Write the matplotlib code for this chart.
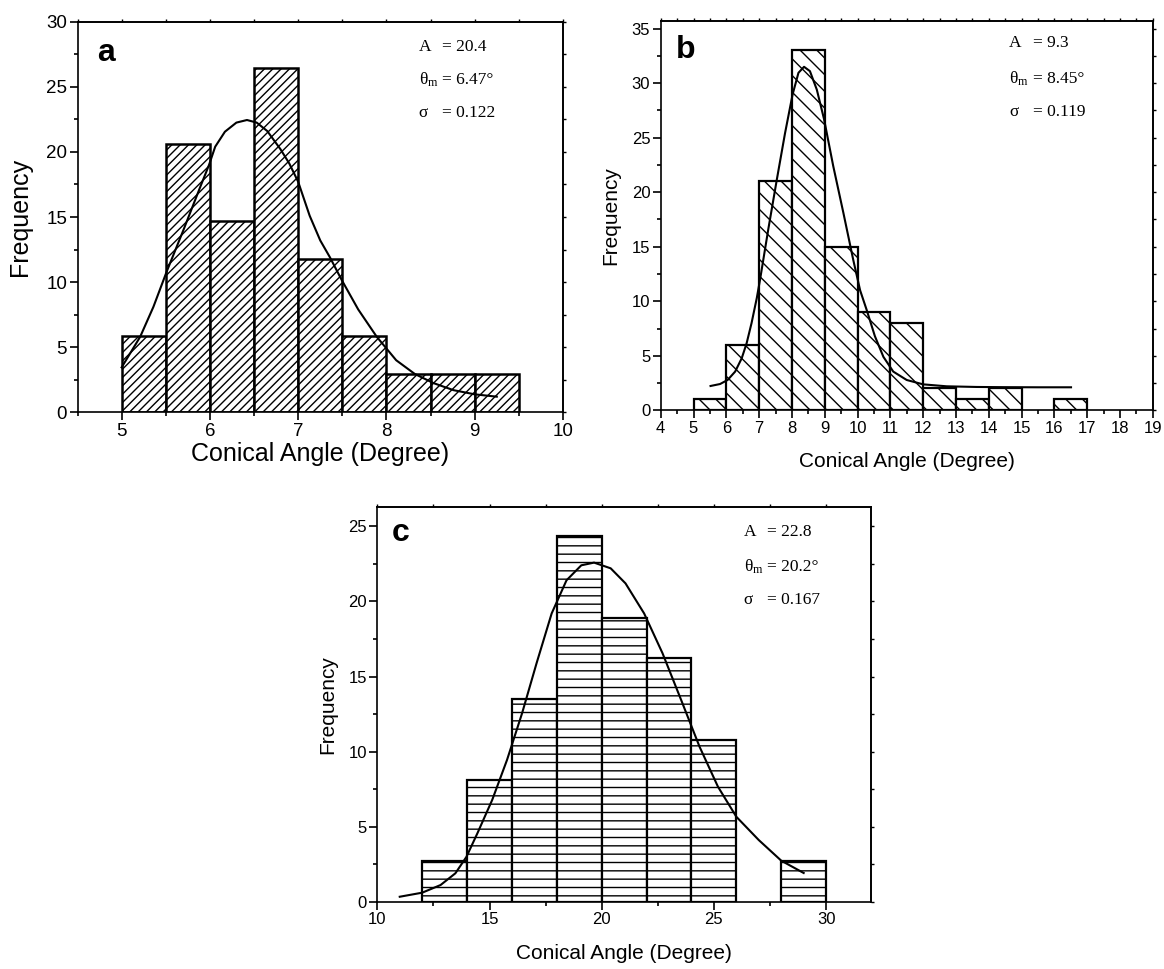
import matplotlib
matplotlib.use("Agg")
import matplotlib.pyplot as plt
from matplotlib.ticker import MultipleLocator
import numpy as np

plt.rcParams['font.family'] = ['Liberation Sans', 'DejaVu Sans']
plt.rcParams['mathtext.fontset'] = 'custom'
plt.rcParams['mathtext.rm'] = 'Liberation Serif'
plt.rcParams['mathtext.it'] = 'Liberation Serif:italic'
plt.rcParams['hatch.linewidth'] = 1.0

# ---------------- data ----------------
# panel a
a_edges = [5.0, 5.5, 6.0, 6.5, 7.0, 7.5, 8.0, 8.5, 9.0, 9.5]
a_freq = [5.88, 20.59, 14.71, 26.47, 11.76, 5.88, 2.94, 2.94, 2.94]
a_curve_x = [5.00, 5.21, 5.36, 5.51, 5.70, 5.89, 5.99, 6.06, 6.17, 6.30, 6.42, 6.53, 6.65,
             6.80, 6.90, 7.00, 7.13, 7.25, 7.36, 7.49, 7.68, 7.89, 8.11, 8.32, 8.53, 8.76,
             9.00, 9.25]
a_curve_y = [3.45, 5.8, 8.1, 10.8, 14.0, 17.3, 19.0, 20.4, 21.55, 22.25, 22.45, 22.25, 21.6,
             20.2, 19.1, 17.7, 15.1, 13.2, 11.9, 10.2, 7.9, 5.8, 4.0, 2.95, 2.25, 1.7,
             1.38, 1.2]
a_params = ["20.4", "6.47°", "0.122"]

# panel b
b_edges = [5, 6, 7, 8, 9, 10, 11, 12, 13, 14, 15, 16, 17]
b_freq = [1, 6, 21, 33, 15, 9, 8, 2, 1, 2, 0, 1]
b_curve_x = [5.52, 5.81, 6.04, 6.27, 6.47, 6.62, 6.77, 6.93, 7.03, 7.28, 7.54, 7.79, 8.02,
             8.20, 8.37, 8.55, 8.76, 8.98, 9.26, 9.57, 9.87, 10.08, 10.28, 10.53, 10.79,
             11.09, 11.5, 12.0, 12.72, 13.63, 14.5, 15.5, 16.51]
b_curve_y = [2.23, 2.41, 2.78, 3.55, 4.77, 6.15, 8.0, 10.3, 12.0, 16.6, 21.15, 25.4, 28.95,
             30.95, 31.5, 31.1, 29.4, 26.7, 22.4, 18.1, 13.8, 11.0, 9.2, 6.8, 4.9,
             3.55, 2.78, 2.38, 2.2, 2.14, 2.12, 2.11, 2.11]
b_params = ["9.3", "8.45°", "0.119"]

# panel c
c_edges = [12, 14, 16, 18, 20, 22, 24, 26, 28, 30]
c_freq = [2.70, 8.11, 13.51, 24.32, 18.92, 16.22, 10.81, 0.0, 2.70]
c_curve_x = [11.0, 12.0, 12.82, 13.48, 13.97, 14.46, 15.12, 15.78, 16.45, 17.1, 17.77, 18.43,
             19.09, 19.66, 20.4, 21.06, 21.89, 22.71, 23.54, 24.36, 25.18, 26.0, 27.0,
             28.0, 29.0]
c_curve_y = [0.35, 0.62, 1.13, 1.91, 3.0, 4.57, 6.79, 9.45, 12.55, 15.9, 19.2, 21.4,
             22.4, 22.58, 22.2, 21.2, 19.2, 16.55, 13.44, 10.33, 7.67, 5.67, 4.12,
             2.75, 1.93]
c_params = ["22.8", "20.2°", "0.167"]

xlabel = "Conical Angle (Degree)"
ylabel = "Frequency"

W, H = 1164, 969
fig = plt.figure(figsize=(W / 100, H / 100), dpi=100)


def rect(l, r, t, b):
    return [l / W, 1 - b / H, (r - l) / W, (b - t) / H]


def style_axes(ax, xlim, ylim, xmaj, xmin, ymaj, ymin, tick_fs, label_fs,
               xpad, ypad):
    ax.set_xlim(*xlim)
    ax.set_ylim(*ylim)
    for s in ax.spines.values():
        s.set_linewidth(1.2)
    ax.xaxis.set_major_locator(MultipleLocator(xmaj))
    ax.xaxis.set_minor_locator(MultipleLocator(xmin))
    ax.yaxis.set_major_locator(MultipleLocator(ymaj))
    ax.yaxis.set_minor_locator(MultipleLocator(ymin))
    ax.tick_params(which='major', direction='out', length=5.5, width=1.2,
                   labelsize=tick_fs, pad=2)
    ax.tick_params(which='minor', direction='out', length=3, width=1.2)
    ax.set_xlabel(xlabel, fontsize=label_fs, labelpad=xpad)
    ax.set_ylabel(ylabel, fontsize=label_fs, labelpad=ypad)
    # short ticks on top / right
    sx = ax.secondary_xaxis('top')
    sx.xaxis.set_major_locator(MultipleLocator(xmaj))
    sx.xaxis.set_minor_locator(MultipleLocator(xmin))
    sx.tick_params(which='both', direction='out', length=2.5, width=1.0,
                   labeltop=False)
    sy = ax.secondary_yaxis('right')
    sy.yaxis.set_major_locator(MultipleLocator(ymaj))
    sy.yaxis.set_minor_locator(MultipleLocator(ymin))
    sy.tick_params(which='both', direction='out', length=2.5, width=1.0,
                   labelright=False)
    for s in list(sx.spines.values()) + list(sy.spines.values()):
        s.set_linewidth(1.2)


def draw_hist(ax, edges, freq, hatch, lw):
    edges = np.asarray(edges, dtype=float)
    widths = np.diff(edges)
    for x0, w, h in zip(edges[:-1], widths, freq):
        if h <= 0:
            continue
        ax.bar(x0, h, width=w, align='edge', facecolor='white',
               edgecolor='black', hatch=hatch, linewidth=lw, zorder=2)


def annotate(ax, letter, params, x0, ys, dx, fs, letter_xy):
    ax.text(letter_xy[0], letter_xy[1], letter, transform=ax.transAxes,
            fontsize=23, fontweight='bold', ha='left', va='center')
    names = ["A", r"$\mathrm{\theta_m}$", "σ"]
    for name, val, y in zip(names, params, ys):
        ax.text(x0, y, name, transform=ax.transAxes, fontsize=fs,
                family='Liberation Serif', ha='left', va='center')
        ax.text(x0 + dx, y, "= " + val, transform=ax.transAxes, fontsize=fs,
                family='Liberation Serif', ha='left', va='center')


# ---------------- panel a ----------------
ax_a = fig.add_axes(rect(77.5, 563, 21.7, 412.3))
draw_hist(ax_a, a_edges, a_freq, '////', 1.8)
ax_a.plot(a_curve_x, a_curve_y, color='black', lw=1.5, zorder=3)
style_axes(ax_a, (4.5, 10), (0, 30), 1, 0.5, 5, 2.5, 13.5, 18, 2, 10)
annotate(ax_a, "a", a_params, 0.703, [0.935, 0.851, 0.766], 0.048, 12.5,
         (0.04, 0.92))

# ---------------- panel b ----------------
ax_b = fig.add_axes(rect(660.7, 1152.7, 21, 410.3))
draw_hist(ax_b, b_edges, b_freq, '\\\\', 1.6)
ax_b.plot(b_curve_x, b_curve_y, color='black', lw=1.5, zorder=3)
style_axes(ax_b, (4, 19), (0, 35.7), 1, 0.5, 5, 2.5, 12, 15, 12, 8)
annotate(ax_b, "b", b_params, 0.708, [0.943, 0.851, 0.766], 0.048, 12.5,
         (0.03, 0.925))

# ---------------- panel c ----------------
ax_c = fig.add_axes(rect(377.3, 871, 507.3, 902))
draw_hist(ax_c, c_edges, c_freq, '--', 1.6)
ax_c.plot(c_curve_x, c_curve_y, color='black', lw=1.5, zorder=3)
style_axes(ax_c, (10, 32), (0, 26.26), 5, 2.5, 5, 2.5, 12, 15, 12, 8)
annotate(ax_c, "c", c_params, 0.742, [0.937, 0.849, 0.766], 0.048, 12.5,
         (0.03, 0.935))

fig.savefig("out.png", dpi=100)
